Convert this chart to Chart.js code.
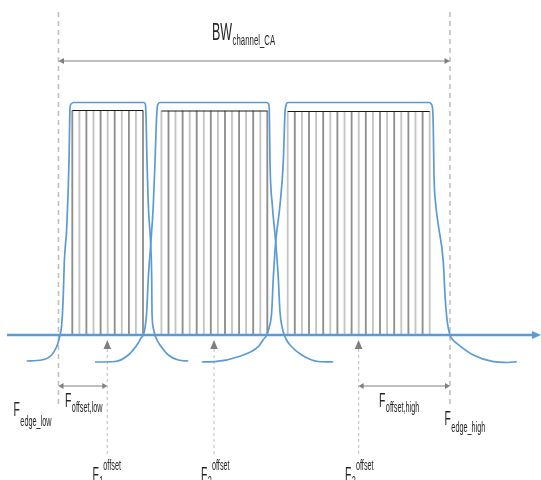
<!DOCTYPE html>
<html>
<head>
<meta charset="utf-8">
<script src="https://cdn.jsdelivr.net/npm/chart.js@4.4.1/dist/chart.umd.min.js"></script>
<style>
  html, body { margin: 0; padding: 0; background: #fff; }
  #wrap { width: 541px; height: 480px; position: relative; }
</style>
</head>
<body>
<div id="wrap"><canvas id="chart"></canvas></div>
<script>
// x = frequency, y = level (0 is the frequency axis)
var axisStart = 7, axisEnd = 541;
var fEdgeLow = 58.5, fEdgeHigh = 450;
var fOffset = [107.3, 214, 358.6];
var bwLevel = 274;
var offsetArrowLevel = -51;

var subcarriers1 = [72.3, 79.4, 86.4, 93.5, 100.6, 107.7, 114.7, 121.8, 128.9, 135.9, 143.0];
var subcarriers2 = [161.4, 168.5, 175.5, 182.6, 189.7, 196.7, 203.8, 210.8, 217.9, 225.0, 232.0, 239.1,
  246.1, 253.2, 260.3, 267.3];
var subcarriers3 = [287.7, 294.8, 301.9, 309.0, 316.1, 323.2, 330.3, 337.4, 344.5, 351.6, 358.7, 365.8,
  372.9, 380.0, 387.1, 394.2, 401.3, 408.4, 415.5, 422.6, 429.7];
var subcarrierTop = [224.5, 224, 223.5];

var envelope1 = [[26.7, -26], [41.7, -25], [51.7, -20], [56.5, -12], [58.3, -7], [60, 0], [61.7, 10],
  [63.3, 40], [64.3, 73], [66.7, 107], [69, 173], [70, 227], [71, 231], [73.5, 232.5], [143.5, 232.5],
  [145.3, 231], [146, 220], [147, 173], [148.3, 130], [150.7, 90], [151.7, 57], [152, 23], [153.3, 7],
  [155, 0], [157, -5], [160, -10], [168.3, -20], [178.3, -25], [188.3, -26]];
var envelope2 = [[95, -27], [115, -26.5], [128.3, -20], [138.3, -8], [141, -3], [143.3, 0], [145, 7],
  [146.7, 23], [148.3, 57], [150.7, 90], [153.3, 130], [155, 173], [156.7, 220], [157.7, 230],
  [160, 232.5], [267, 232.5], [268.5, 231], [269.3, 225], [270, 173], [272.3, 130], [275.7, 93],
  [278.3, 57], [280, 23], [282.3, 7], [284.3, 0], [286.5, -5], [290, -10], [301.7, -20], [318.3, -26.5],
  [333.3, -27]];
var envelope3 = [[201.7, -27], [215, -26.7], [238.3, -21.7], [258.3, -11.7], [263, -5], [266.7, 0],
  [269, 7], [271.7, 23], [273.3, 57], [275.7, 93], [280, 130], [283.3, 173], [285, 223], [285.8, 229],
  [288, 232.5], [429.5, 232.5], [431.5, 230.5], [432.5, 227], [433.3, 207], [434, 160], [435.8, 130],
  [438.3, 110], [443.3, 73], [445, 40], [447.3, 13], [450, 0], [452.5, -4.5], [456.7, -8.3], [473.3, -20],
  [493.3, -26.7], [508, -27.5], [516.7, -26.7]];

var labelBase = ['BW', 'F', 'F', 'F', 'F', 'F', 'F', 'F'];
var labelSub = ['channel_CA', 'edge_low', 'offset,low', 'offset,high', 'edge_high', '1', '2', '3'];
var labelSup = ['', '', '', '', '', 'offset', 'offset', 'offset'];

// label placement: [x, y of baseline], sub/sup shifts in px
var labelAt = [[212, 295], [13.5, -81], [65, -72], [379, -72], [444.5, -90], [92.4, -146], [201, -146], [345, -146]];
var labelSubDy = [4.5, 9.5, 5, 5, 6.5, 5, 5, 5];
var labelSupDy = -11;

var BLUE = '#5b9bd5';
var GRAY = '#808080';
var FONT = "'Liberation Sans', Arial, sans-serif";
var SQUEEZE = 0.52;

function pts(list) {
  return list.map(function (p) { return { x: p[0], y: p[1] }; });
}

function envelopeSet(list) {
  return {
    data: pts(list), borderColor: BLUE, borderWidth: 1.7, pointRadius: 0,
    cubicInterpolationMode: 'monotone', fill: false
  };
}

function segment(x1, y1, x2, y2, color, width, dash) {
  return {
    data: [{ x: x1, y: y1 }, { x: x2, y: y2 }], borderColor: color, borderWidth: width,
    borderDash: dash || [], pointRadius: 0, tension: 0, fill: false
  };
}

var allSub = [];
[subcarriers1, subcarriers2, subcarriers3].forEach(function (list, c) {
  list.forEach(function (x) { allSub.push({ x: x, y: [0, subcarrierTop[c]] }); });
});
var subColors = allSub.map(function (d, i) { return i % 2 ? '#c4c4c4' : '#8f8f8f'; });

var datasets = [
  envelopeSet(envelope1),
  envelopeSet(envelope2),
  envelopeSet(envelope3),
  segment(axisStart, 0, axisEnd - 6, 0, BLUE, 2.6),
  segment(subcarriers1[0], subcarrierTop[0], subcarriers1[subcarriers1.length - 1], subcarrierTop[0], '#1a1a1a', 1),
  segment(subcarriers2[0], subcarrierTop[1], subcarriers2[subcarriers2.length - 1], subcarrierTop[1], '#1a1a1a', 1),
  segment(subcarriers3[0], subcarrierTop[2], subcarriers3[subcarriers3.length - 1], subcarrierTop[2], '#1a1a1a', 1),
  segment(fEdgeLow, 323, fEdgeLow, -70, '#c0c0c0', 1.6, [5, 4]),
  segment(fEdgeHigh, 323, fEdgeHigh, -70, '#c0c0c0', 1.6, [5, 4]),
  segment(fEdgeLow + 4, bwLevel, fEdgeHigh - 4, bwLevel, GRAY, 1.2),
  segment(fEdgeLow + 4, offsetArrowLevel, fOffset[0] - 4, offsetArrowLevel, GRAY, 1.2),
  segment(fOffset[2] + 4, offsetArrowLevel, fEdgeHigh - 4, offsetArrowLevel, GRAY, 1.2)
];
fOffset.forEach(function (f) {
  datasets.push(segment(f, -14, f, -120, '#c8c8c8', 1.2, [3, 3]));
});
datasets.push({
  type: 'bar', data: allSub, backgroundColor: subColors, barThickness: 1.2, grouped: false
});

function head(ctx, x, y, dx, dy, len, half, color) {
  ctx.fillStyle = color;
  ctx.beginPath();
  ctx.moveTo(x, y);
  ctx.lineTo(x - dx * len - dy * half, y - dy * len + dx * half);
  ctx.lineTo(x - dx * len + dy * half, y - dy * len - dx * half);
  ctx.closePath();
  ctx.fill();
}

var annotations = {
  id: 'annotations',
  afterDatasetsDraw: function (chart) {
    var ctx = chart.ctx;
    var xs = chart.scales.x, ys = chart.scales.y;
    function px(v) { return xs.getPixelForValue(v); }
    function py(v) { return ys.getPixelForValue(v); }
    ctx.save();

    head(ctx, px(axisEnd), py(0), 1, 0, 9, 4, BLUE);
    head(ctx, px(fEdgeLow), py(bwLevel), -1, 0, 5.5, 3, GRAY);
    head(ctx, px(fEdgeHigh), py(bwLevel), 1, 0, 5.5, 3, GRAY);
    head(ctx, px(fEdgeLow), py(offsetArrowLevel), -1, 0, 5, 3, GRAY);
    head(ctx, px(fOffset[0]), py(offsetArrowLevel), 1, 0, 5, 3, GRAY);
    head(ctx, px(fOffset[2]), py(offsetArrowLevel), -1, 0, 5, 3, GRAY);
    head(ctx, px(fEdgeHigh), py(offsetArrowLevel), 1, 0, 5, 3, GRAY);
    fOffset.forEach(function (f) {
      head(ctx, px(f), py(-5), 0, -1, 9, 3.8, '#7f7f7f');
    });

    ctx.fillStyle = '#262626';
    ctx.textBaseline = 'alphabetic';
    labelBase.forEach(function (base, i) {
      var big = i === 0 ? 24 : 20;
      var small = i === 0 ? 15 : 14;
      ctx.save();
      ctx.translate(px(labelAt[i][0]), py(labelAt[i][1]));
      ctx.scale(SQUEEZE, 1);
      ctx.font = big + 'px ' + FONT;
      ctx.fillText(base, 0, 0);
      var w = ctx.measureText(base).width + 1;
      ctx.font = small + 'px ' + FONT;
      ctx.fillText(labelSub[i], w, labelSubDy[i]);
      if (labelSup[i]) {
        w += ctx.measureText(labelSub[i]).width;
        ctx.fillText(labelSup[i], w, labelSupDy);
      }
      ctx.restore();
    });
    ctx.restore();
  }
};

new Chart(document.getElementById('chart'), {
  type: 'line',
  data: { datasets: datasets },
  options: {
    responsive: true,
    maintainAspectRatio: false,
    animation: false,
    events: [],
    layout: { padding: 0 },
    plugins: { legend: { display: false }, tooltip: { enabled: false } },
    scales: {
      x: { type: 'linear', min: 0, max: 541, display: false, offset: false, grid: { offset: false } },
      y: { type: 'linear', min: -145, max: 335, display: false }
    }
  },
  plugins: [annotations]
});
</script>
</body>
</html>
